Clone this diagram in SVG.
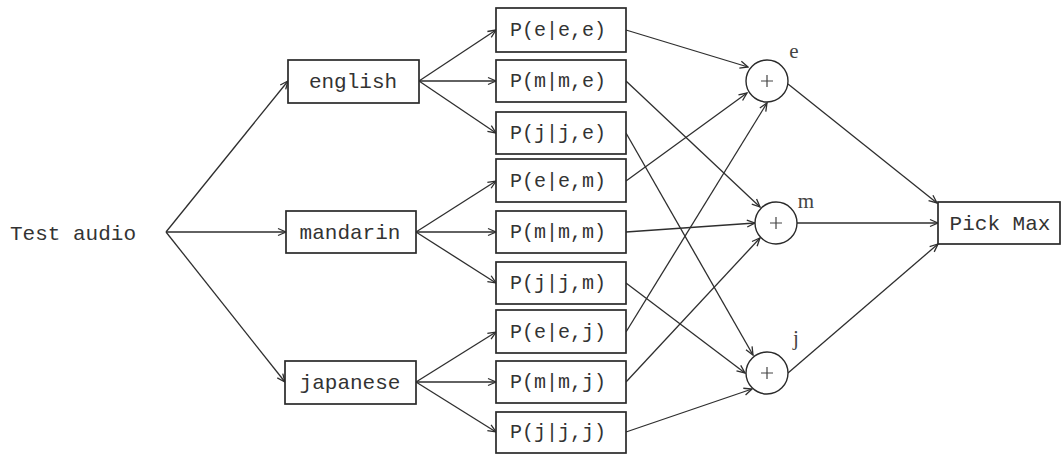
<svg xmlns="http://www.w3.org/2000/svg" width="1062" height="454" viewBox="0 0 1062 454">
<defs>
<style>
.box{fill:#fff;stroke:#2a2a2a;stroke-width:1.7}
.c{fill:#fff;stroke:#2a2a2a;stroke-width:1.4}
.t{font-family:"Liberation Mono",monospace;font-size:21px;fill:#333;text-anchor:middle}
.p{font-family:"Liberation Mono",monospace;font-size:20px;fill:#333;text-anchor:middle}
.l{font-family:"Liberation Serif",serif;font-size:21px;fill:#444;text-anchor:middle}
.plus{stroke:#444;stroke-width:1.2}
#connectors line{stroke:#2e2e2e;stroke-width:1.3;fill:none;marker-end:url(#arr)}
</style>
<marker id="arr" viewBox="0 0 10 10" refX="9" refY="5" markerWidth="10" markerHeight="10" markerUnits="userSpaceOnUse" orient="auto">
<path d="M1,1.5 L9,5 L1,8.5" fill="none" stroke="#2e2e2e" stroke-width="1.3"/>
</marker>
</defs>
<rect width="1062" height="454" fill="#fff"/>

<g id="connectors">
<line x1="166" y1="232" x2="288" y2="81"/>
<line x1="166" y1="232" x2="286" y2="232"/>
<line x1="166" y1="232" x2="285" y2="382"/>

<line x1="419" y1="81" x2="496" y2="30"/>
<line x1="419" y1="81" x2="496" y2="81"/>
<line x1="419" y1="81" x2="496" y2="133"/>
<line x1="416" y1="232" x2="496" y2="181"/>
<line x1="416" y1="232" x2="496" y2="232"/>
<line x1="416" y1="232" x2="496" y2="283"/>
<line x1="416" y1="382" x2="496" y2="332"/>
<line x1="416" y1="382" x2="496" y2="382"/>
<line x1="416" y1="382" x2="496" y2="432"/>

<line x1="626" y1="30" x2="748" y2="67"/>
<line x1="626" y1="81" x2="760" y2="207"/>
<line x1="626" y1="133" x2="753" y2="355"/>
<line x1="626" y1="181" x2="747" y2="93"/>
<line x1="626" y1="232" x2="755" y2="223"/>
<line x1="626" y1="283" x2="745" y2="373"/>
<line x1="626" y1="332" x2="767" y2="103"/>
<line x1="626" y1="382" x2="760" y2="238"/>
<line x1="626" y1="432" x2="752" y2="389"/>

<line x1="788" y1="84" x2="937" y2="203"/>
<line x1="797" y1="223" x2="938" y2="223"/>
<line x1="788" y1="373" x2="938" y2="244"/>
</g>

<g id="test-audio"><text class="t" x="73" y="240">Test audio</text></g>

<g id="english"><rect class="box" x="288" y="60" width="131" height="43"/><text class="t" x="353" y="88">english</text></g>
<g id="mandarin"><rect class="box" x="286" y="211" width="130" height="42"/><text class="t" x="350" y="239">mandarin</text></g>
<g id="japanese"><rect class="box" x="285" y="361" width="131" height="43"/><text class="t" x="350" y="389">japanese</text></g>

<g id="p-e-e-e"><rect class="box" x="496" y="8" width="130" height="44"/><text class="p" x="558" y="36">P(e|e,e)</text></g>
<g id="p-m-m-e"><rect class="box" x="496" y="60" width="130" height="42"/><text class="p" x="558" y="87">P(m|m,e)</text></g>
<g id="p-j-j-e"><rect class="box" x="496" y="112" width="130" height="42"/><text class="p" x="558" y="139">P(j|j,e)</text></g>
<g id="p-e-e-m"><rect class="box" x="496" y="159" width="130" height="43"/><text class="p" x="558" y="187">P(e|e,m)</text></g>
<g id="p-m-m-m"><rect class="box" x="496" y="211" width="130" height="42"/><text class="p" x="558" y="238">P(m|m,m)</text></g>
<g id="p-j-j-m"><rect class="box" x="496" y="262" width="130" height="42"/><text class="p" x="558" y="289">P(j|j,m)</text></g>
<g id="p-e-e-j"><rect class="box" x="496" y="310" width="130" height="43"/><text class="p" x="558" y="338">P(e|e,j)</text></g>
<g id="p-m-m-j"><rect class="box" x="496" y="361" width="130" height="42"/><text class="p" x="558" y="388">P(m|m,j)</text></g>
<g id="p-j-j-j"><rect class="box" x="496" y="412" width="130" height="41"/><text class="p" x="558" y="438">P(j|j,j)</text></g>

<g id="sum-e"><circle class="c" cx="767" cy="81" r="21"/><path class="plus" d="M761,81 H773 M767,75 V87"/><text class="l" x="794" y="58">e</text></g>
<g id="sum-m"><circle class="c" cx="776" cy="223" r="21"/><path class="plus" d="M770,223 H782 M776,217 V229"/><text class="l" x="806" y="208">m</text></g>
<g id="sum-j"><circle class="c" cx="767" cy="373" r="21"/><path class="plus" d="M761,373 H773 M767,367 V379"/><text class="l" x="796" y="345">j</text></g>

<g id="pick-max"><rect class="box" x="938" y="202" width="122" height="42"/><text class="t" x="1000" y="230">Pick Max</text></g>
</svg>
